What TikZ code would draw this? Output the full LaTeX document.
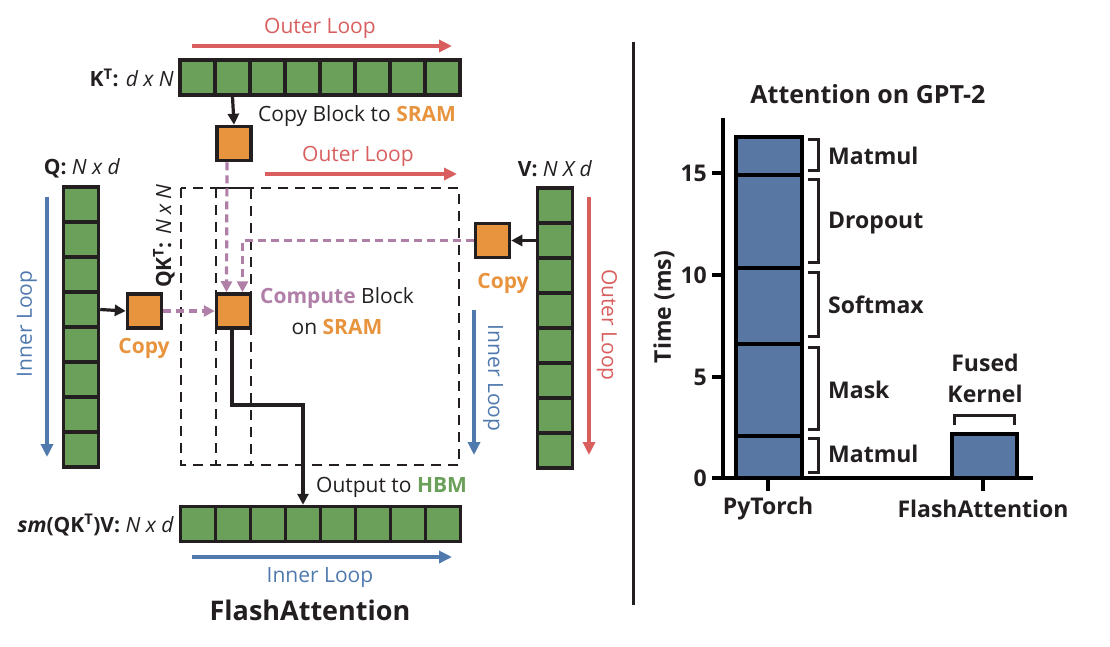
\documentclass[tikz,border=0pt]{standalone}
\usepackage{fontspec}
\setmainfont{Open Sans}
\usetikzlibrary{arrows.meta}
\definecolor{cgreen}{HTML}{6AA05A}
\definecolor{corange}{HTML}{E8943F}
\definecolor{cpurple}{HTML}{B07FA8}
\definecolor{cred}{HTML}{D95F5F}
\definecolor{cblue}{HTML}{5079AE}
\definecolor{cbar}{HTML}{5878A3}
\definecolor{cink}{HTML}{231F20}
\tikzset{
  cell/.style={draw=cink, fill=cgreen, line width=3.5pt, minimum size=35pt, inner sep=0pt},
  blockbox/.style={draw=cink, fill=corange, line width=3.5pt, minimum size=34pt, inner sep=0pt},
  lbl/.style={font=\fontsize{21}{24}\selectfont, text=cink, inner sep=0pt},
  chartlbl/.style={font=\fontsize{23}{26}\selectfont\bfseries, text=cink, inner sep=0pt},
  redloop/.style={draw=cred, line width=3.5pt, -{Triangle[length=13pt,width=12pt]}},
  blueloop/.style={draw=cblue, line width=3.5pt, -{Triangle[length=13pt,width=12pt]}},
  blackarrow/.style={draw=cink, line width=3.2pt, -{Triangle[length=11pt,width=11pt]}},
  purplearrow/.style={draw=cpurple, line width=3.2pt, dash pattern=on 8pt off 5pt, -{Triangle[length=11pt,width=11pt]}},
  dashbox/.style={draw=cink, line width=1.6pt, dash pattern=on 10pt off 7pt},
  bracket/.style={draw=cink, line width=3pt},
  barseg/.style={draw=black, fill=cbar, line width=4pt},
  axisline/.style={draw=black, line width=4pt},
}
\begin{document}
\begin{tikzpicture}[x=1pt,y=-1pt]
\useasboundingbox (0,0) rectangle (1110,646);

% ---------- arrays ----------
\foreach \i in {1,...,8} {
  \node[cell] (K\i) at ({162.5+35*\i},77.5) {};
  \node[cell] (Q\i) at (81,{169.5+35*\i}) {};
  \node[cell] (V\i) at (555,{170.5+35*\i}) {};
  \node[cell] (O\i) at ({163+35*\i},524) {};
}

% ---------- dashed boxes ----------
\draw[dashbox] (181,188) rectangle (459,465);
\draw[dashbox] (216,188) rectangle (251,465);

% ---------- SRAM blocks ----------
\node[blockbox] (KC) at (234,143.5) {};
\node[blockbox] (QC) at (144.5,311) {};
\node[blockbox] (CB) at (233.5,311) {};
\node[blockbox] (VC) at (492.5,240.5) {};

% ---------- connectors ----------
\draw[blackarrow] (K2.south) -- (KC.north);
\draw[blackarrow] (Q4.east) -- (QC.west);
\draw[blackarrow] (V2.west) -- (VC.east);
\draw[purplearrow] (QC.east) -- (CB.west);
\draw[purplearrow] ([xshift=-7pt]KC.south) -- ([xshift=-7pt]CB.north);
\coordinate (vcorner) at ([xshift=9pt]CB.north |- VC.west);
\draw[purplearrow] (VC.west) -- (vcorner) -- ([xshift=9pt]CB.north);
\coordinate (obend1) at (232,405);
\coordinate (obend2) at (O4.north |- obend1);
\draw[blackarrow] ([xshift=-1.5pt]CB.south) -- (obend1) -- (obend2) -- (O4.north);

% ---------- loop arrows ----------
\coordinate (ol1a) at (192,46);  \coordinate (ol1b) at (452,46);
\draw[redloop] (ol1a) -- (ol1b);
\coordinate (ol2a) at (265,174); \coordinate (ol2b) at (457,174);
\draw[redloop] (ol2a) -- (ol2b);
\coordinate (il1a) at (47,197);  \coordinate (il1b) at (47,457);
\draw[blueloop] (il1a) -- (il1b);
\coordinate (il2a) at (474,310); \coordinate (il2b) at (474,455);
\draw[blueloop] (il2a) -- (il2b);
\coordinate (ol3a) at (589,197); \coordinate (ol3b) at (589,455);
\draw[redloop] (ol3a) -- (ol3b);
\coordinate (il3a) at (192,557); \coordinate (il3b) at (452,557);
\draw[blueloop] (il3a) -- (il3b);

% ---------- labels (left) ----------
\node[lbl, text=cred] (tOL1) at (320,28) {Outer Loop};
\node[lbl, text=cred] (tOL2) at (358,156) {Outer Loop};
\node[lbl, text=cblue, rotate=90] (tIL1) at (27,324) {Inner Loop};
\node[lbl, text=cblue, rotate=-90] (tIL2) at (493,378) {Inner Loop};
\node[lbl, text=cred, rotate=-90] (tOL3) at (607,325) {Outer Loop};
\node[lbl, text=cblue] (tIL3) at (320,578) {Inner Loop};
\node[lbl, anchor=east] (tK) at (174,78) {\textbf{K\textsuperscript{T}:} \textit{d x N}};
\node[lbl] (tQ) at (82,168) {\textbf{Q:} \textit{N x d}};
\node[lbl] (tV) at (555,169) {\textbf{V:} \textit{N X d}};
\node[lbl, anchor=east] (tO) at (174,525) {\textbf{\textit{sm}(QK\textsuperscript{T})V:} \textit{N x d}};
\node[lbl, rotate=90] (tQK) at (164,236) {\textbf{QK\textsuperscript{T}:} \textit{N x N}};
\node[lbl, anchor=west] (tCopyK) at (258,116) {Copy Block to \textcolor{corange}{\textbf{SRAM}}};
\node[lbl, text=corange, font=\fontsize{21}{24}\selectfont\bfseries] (tCopyQ) at (144,348) {Copy};
\node[lbl, text=corange, font=\fontsize{21}{24}\selectfont\bfseries] (tCopyV) at (503,283) {Copy};
\node[lbl] (tCB1) at (337,298) {\textcolor{cpurple}{\textbf{Compute}} Block};
\node[lbl] (tCB2) at (337,327) {on \textcolor{corange}{\textbf{SRAM}}};
\node[lbl, anchor=west] (tOut) at (316,487) {Output to \textcolor{cgreen}{\textbf{HBM}}};
\node[lbl, font=\fontsize{27}{30}\selectfont\bfseries] (tFA) at (310,610) {FlashAttention};

% ---------- separator ----------
\draw[draw=cink, line width=3pt] (633,42) -- (633,605);

% ---------- chart ----------
\node[chartlbl, font=\fontsize{25}{28}\selectfont\bfseries] (tTitle) at (868,94) {Attention on GPT-2};
\draw[barseg] (736,478) rectangle (802,436);
\draw[barseg] (736,436) rectangle (802,344);
\draw[barseg] (736,344) rectangle (802,268);
\draw[barseg] (736,268) rectangle (802,175);
\draw[barseg] (736,175) rectangle (802,137);
\draw[barseg] (952,478) rectangle (1017,434);
\draw[axisline] (723,118) -- (723,478);
\draw[axisline] (712,478) -- (1033,478);
\foreach \v/\y in {0/478,5/377,10/275,15/173} {
  \draw[axisline] (712,\y) -- (723,\y);
  \node[chartlbl, anchor=east] (tick\v) at (707,\y) {\v};
}
\draw[axisline] (768,478) -- (768,491);
\draw[axisline] (983,478) -- (983,491);
\node[chartlbl, rotate=90] (tTime) at (664,307) {Time (ms)};
\node[chartlbl] (tPT) at (768,509) {PyTorch};
\node[chartlbl] (tFA2) at (983,509) {FlashAttention};

\draw[bracket] (808,139) -- (818,139) -- (818,170) -- (808,170);
\draw[bracket] (808,179) -- (818,179) -- (818,262) -- (808,262);
\draw[bracket] (808,272) -- (818,272) -- (818,336) -- (808,336);
\draw[bracket] (808,347) -- (818,347) -- (818,429) -- (808,429);
\draw[bracket] (808,438) -- (818,438) -- (818,472) -- (808,472);
\draw[bracket] (954,425) -- (954,415) -- (1014,415) -- (1014,425);

\node[chartlbl, anchor=west] (sM1) at (828,156) {Matmul};
\node[chartlbl, anchor=west] (sD) at (828,223) {Dropout};
\node[chartlbl, anchor=west] (sS) at (828,305) {Softmax};
\node[chartlbl, anchor=west] (sMa) at (828,390) {Mask};
\node[chartlbl, anchor=west] (sM2) at (828,454) {Matmul};
\node[chartlbl] (sF1) at (985,363) {Fused};
\node[chartlbl] (sF2) at (985,394) {Kernel};
\end{tikzpicture}
\end{document}
